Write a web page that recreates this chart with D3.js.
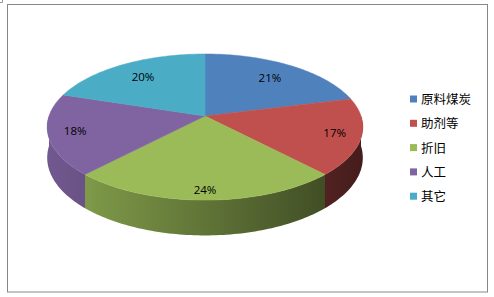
<!DOCTYPE html>
<html>
<head>
<meta charset="utf-8">
<script src="https://cdn.jsdelivr.net/npm/d3@7"></script>
<style>
  body { margin: 0; background: #fff; }
  svg { display: block; }
</style>
</head>
<body>
<div id="chart"></div>
<script>
// chart data
const categories = ["原料煤炭", "助剂等", "折旧", "人工", "其它"];
const values = [21, 17, 24, 18, 20];
const colors = ["#4F81BD", "#C0504D", "#9BBB59", "#8064A2", "#4BACC6"];

const width = 494, height = 297;

const svg = d3.select("#chart").append("svg")
    .attr("width", width)
    .attr("height", height);

// frame
svg.append("rect")
    .attr("x", 7.5).attr("y", 4.5)
    .attr("width", 480).attr("height", 287.5)
    .attr("fill", "#fff")
    .attr("stroke", "#878787")
    .attr("stroke-width", 1);

svg.append("path")
    .attr("d", "M0,2.5H2.5V0")
    .attr("fill", "none")
    .attr("stroke", "#999");

// 3D pie geometry (perspective tilt)
const cx = 205, cy = 116, R = 156, K = 71.4, persp = 0.151, H = 30;

function proj(t, a, z) {
    let X = t * Math.sin(a), D = t * Math.cos(a);
    let f = 1 / (1 + persp * D);
    return [cx + R * X * f, cy - K * D * f + z * H * f];
}

function arcPoints(a0, a1, z) {
    let n = Math.max(2, Math.ceil(Math.abs(a1 - a0) / 0.02));
    let pts = [];
    for (let i = 0; i <= n; i++) {
        pts.push(proj(1, a0 + (a1 - a0) * i / n, z));
    }
    return pts;
}

const pie = d3.pie().sort(null).value(d => d)(values);

const defs = svg.append("defs");
function shade(c, k) {
    let r = d3.rgb(c);
    return d3.rgb(r.r * k, r.g * k, r.b * k).toString();
}
colors.forEach((c, i) => {
    let g = defs.append("linearGradient")
        .attr("id", "side" + i)
        .attr("gradientUnits", "userSpaceOnUse")
        .attr("x1", cx - R).attr("x2", cx + R)
        .attr("y1", 0).attr("y2", 0);
    g.append("stop").attr("offset", 0).attr("stop-color", shade(c, 0.88));
    g.append("stop").attr("offset", 1).attr("stop-color", shade(c, 0.36));
});

const line = d3.line();

// side walls (front half only)
const sides = svg.append("g");
pie.forEach((s, i) => {
    let a0 = Math.max(s.startAngle, Math.PI / 2);
    let a1 = Math.min(s.endAngle, 3 * Math.PI / 2);
    if (a1 <= a0) return;
    let top = arcPoints(a0, a1, 0);
    let bottom = arcPoints(a1, a0, 1);
    sides.append("path")
        .attr("d", line(top.concat(bottom)) + "Z")
        .attr("fill", `url(#side${i})`);
});

// top faces
const tops = svg.append("g");
pie.forEach((s, i) => {
    let pts = [[cx, cy]].concat(arcPoints(s.startAngle, s.endAngle, 0));
    tops.append("path")
        .attr("d", line(pts) + "Z")
        .attr("fill", colors[i])
        .attr("stroke", colors[i])
        .attr("stroke-width", 0.5);
});

// percentage labels
const total = d3.sum(values);
pie.forEach((s, i) => {
    let mid = (s.startAngle + s.endAngle) / 2;
    let t = 0.81 - 0.09 * Math.cos(mid);
    let p = proj(t, mid, 0);
    svg.append("text")
        .attr("x", p[0]).attr("y", p[1] + 4)
        .attr("text-anchor", "middle")
        .style("font-family", "'Open Sans', 'DejaVu Sans', sans-serif")
        .style("font-size", "11.5px")
        .attr("fill", "#000")
        .text(Math.round(s.value / total * 100) + "%");
});

// legend
const legend = svg.append("g").attr("transform", "translate(410, 99)");
categories.forEach((c, i) => {
    let g = legend.append("g").attr("transform", `translate(0, ${i * 24.3})`);
    g.append("rect")
        .attr("x", 0).attr("y", -3.5)
        .attr("width", 7).attr("height", 7)
        .attr("fill", colors[i]);
    g.append("text")
        .attr("x", 11).attr("y", 5)
        .style("font-family", "'Noto Sans CJK SC', sans-serif")
        .style("font-size", "12.5px")
        .attr("fill", "#000")
        .text(c);
});
</script>
</body>
</html>
